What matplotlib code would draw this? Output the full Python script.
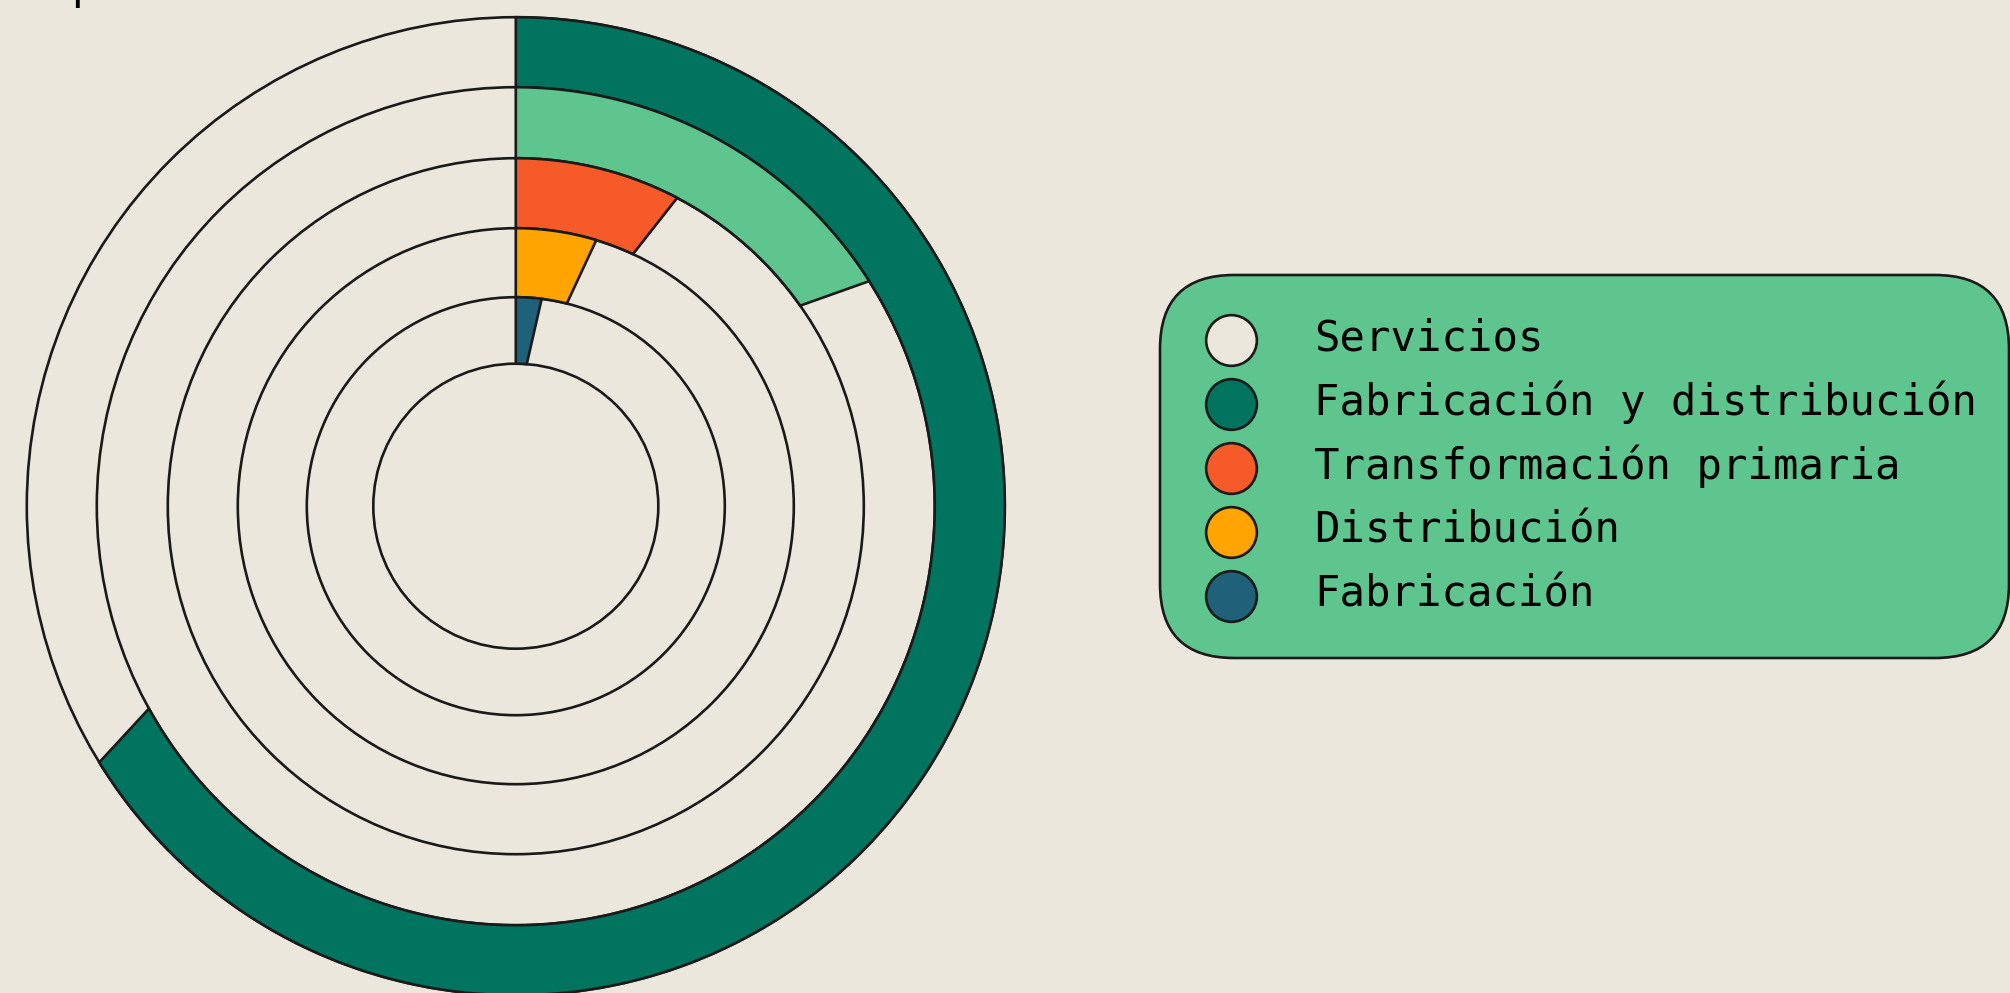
import numpy as np
import matplotlib.pyplot as plt
from matplotlib.patches import Polygon, Circle, FancyBboxPatch

# data (outer ring -> inner ring), share in percent
ring_values = [66.6, 15.6, 7.3, 4.3, 1.6]
ring_colors = ['#00745F', '#5FC58E', '#F65A28', '#FFA400', '#1E6179']

legend_labels = ['Servicios', 'Fabricación y distribución', 'Transformación primaria',
                 'Distribución', 'Fabricación']
legend_colors = ['#EBE7DC', '#00745F', '#F65A28', '#FFA400', '#1E6179']

bg = '#EBE7DC'
edge = '#1a1a1a'
W, H = 2010, 993

fig = plt.figure(figsize=(W / 100, H / 100), dpi=100, facecolor=bg)

# chart axes in pixel units, centred on the rings
radii = [142.5, 209, 278, 348, 419, 489]   # ring borders, inner -> outer
cx, cy = 515.8, H - 506.2
half = 520
ax = fig.add_axes([(cx - half) / W, (cy - half) / H, 2 * half / W, 2 * half / H])
ax.set_xlim(-half, half)
ax.set_ylim(-half, half)
ax.set_aspect('equal')
ax.axis('off')

for r in radii:
    ax.add_patch(Circle((0, 0), r, facecolor='none', edgecolor=edge, lw=1.9, zorder=1))


def ring_segment(r_in, r_out, value):
    theta = value / 100 * 360
    s = 1.35 if theta < 180 else -1.35
    t_out = np.radians(np.linspace(0, theta + s, 200))
    t_in = np.radians(np.linspace(theta - s, 0, 200))
    xs = np.concatenate([r_out * np.sin(t_out), r_in * np.sin(t_in)])
    ys = np.concatenate([r_out * np.cos(t_out), r_in * np.cos(t_in)])
    return np.column_stack([xs, ys])


n = len(ring_values)
for i, (val, col) in enumerate(zip(ring_values, ring_colors)):
    r_out = radii[n - i]
    r_in = radii[n - i - 1]
    ax.add_patch(Polygon(ring_segment(r_in, r_out, val), closed=True,
                         facecolor=col, edgecolor=edge, lw=1.9, zorder=2))

# legend drawn in pixel coordinates
lax = fig.add_axes([0, 0, 1, 1])
lax.set_xlim(0, W)
lax.set_ylim(0, H)
lax.axis('off')
lax.patch.set_alpha(0)

box_l, box_t, box_r, box_b = 1160, 275, 2009, 658
lax.add_patch(FancyBboxPatch((box_l, H - box_b), box_r - box_l, box_b - box_t,
                             boxstyle='round,pad=0,rounding_size=74',
                             facecolor='#5FC58E', edgecolor=edge, lw=1.9))

rows = [340, 404, 468, 532, 596]
for y, lab, col in zip(rows, legend_labels, legend_colors):
    lax.scatter([1230.6], [H - y], s=36.5 ** 2, color=col, edgecolor=edge, lw=1.9, zorder=3)
    lax.text(1314, H - y - 10.7, lab, fontsize=30.4, family='DejaVu Sans Mono',
             va='baseline', ha='left', color='black')

# title sits above the figure, only its descender shows
lax.text(71, H + 1.5, 'p', fontsize=30.4, family='DejaVu Sans Mono', va='baseline', ha='left')

fig.savefig('out.png', dpi=100, facecolor=bg)
